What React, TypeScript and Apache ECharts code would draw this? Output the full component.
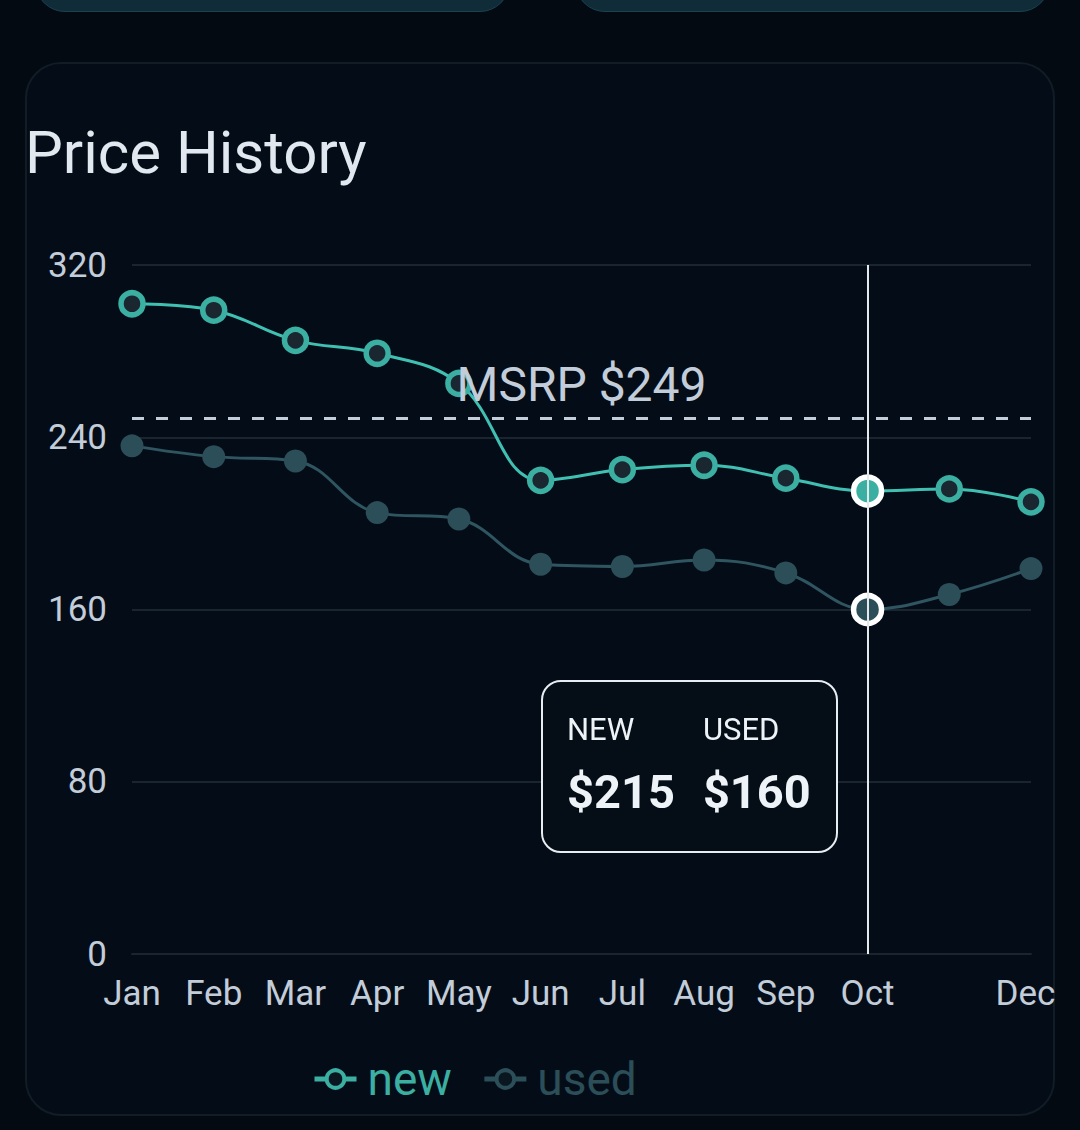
import React, { useEffect, useRef } from 'react';
import * as echarts from 'echarts';

const months = ['Jan', 'Feb', 'Mar', 'Apr', 'May', 'Jun', 'Jul', 'Aug', 'Sep', 'Oct', 'Nov', 'Dec'];
const newPrices = [302, 299, 285, 279, 265, 220, 225, 227, 221, 215, 216, 210];
const usedPrices = [236, 231, 229, 205, 202, 181, 180, 183, 177, 160, 167, 179];
const yTicks = [0, 80, 160, 240, 320];
const msrp = 249;
const activeIndex = 9;
const hiddenLabelIndex = 10;

const TEAL = '#3bafa2';
const USED = '#2b4e58';
const LABEL = '#c3cdd9';
const GRID = '#1a2530';
const FONT = "Roboto, 'Noto Sans', sans-serif";

export default function App() {
  const ref = useRef<HTMLDivElement>(null);

  useEffect(() => {
    document.body.style.margin = '0';
    document.body.style.background = '#030a12';
    if (!ref.current) return;
    const chart = echarts.init(ref.current, null, { renderer: 'svg' });

    const categories = months.map((m, i) =>
      i === months.length - 1 ? { value: m, textStyle: { padding: [0, 11, 0, 0] } } : m
    );

    const tipHtml = (n: number, u: number) => `
      <div style="display:flex;gap:28px;padding:33px 25px 36px 24px;font-family:${FONT};color:#eef3f7;">
        <div>
          <div style="font-size:31px;line-height:30px;color:#eef3f7;">NEW</div>
          <div style="font-size:47px;line-height:46px;font-weight:700;margin-top:24px;color:#eef3f7;">$${n}</div>
        </div>
        <div>
          <div style="font-size:31px;line-height:30px;color:#eef3f7;">USED</div>
          <div style="font-size:47px;line-height:46px;font-weight:700;margin-top:24px;color:#eef3f7;">$${u}</div>
        </div>
      </div>`;

    chart.setOption({
      animation: false,
      backgroundColor: 'transparent',
      title: {
        text: 'Price History',
        left: 25,
        top: 122,
        padding: 0,
        textStyle: { color: '#e1e8ef', fontSize: 60, fontWeight: 'normal', fontFamily: FONT },
      },
      grid: { left: 132, right: 49, top: 265, bottom: 176 },
      tooltip: {
        trigger: 'axis',
        triggerOn: 'none',
        alwaysShowContent: true,
        transitionDuration: 0,
        backgroundColor: '#050d17',
        borderColor: '#e8edf2',
        borderWidth: 2,
        padding: 0,
        textStyle: { color: '#eef3f7', fontFamily: FONT },
        extraCssText: 'border-radius:20px;box-shadow:none;',
        position: [541, 680],
        axisPointer: {
          type: 'line',
          lineStyle: { color: '#e6e9ec', width: 2, type: 'solid' },
          label: { show: false },
        },
        formatter: (params: any) => {
          const arr = Array.isArray(params) ? params : [params];
          const n = arr.find((p: any) => p.seriesName === 'new');
          const u = arr.find((p: any) => p.seriesName === 'used');
          return tipHtml(n ? n.value : '', u ? u.value : '');
        },
      },
      legend: {
        left: 312,
        top: 1056,
        padding: 0,
        itemWidth: 42,
        itemHeight: 22,
        itemGap: 30,
        textStyle: { fontSize: 46, fontFamily: FONT, color: 'inherit', padding: [0, 0, 0, 6] },
        data: [
          {
            name: 'new',
            textStyle: { color: TEAL },
            itemStyle: { color: '#0a1620', borderColor: TEAL, borderWidth: 4 },
            lineStyle: { color: TEAL, width: 5 },
          },
          {
            name: 'used',
            textStyle: { color: USED },
            itemStyle: { color: '#0a1620', borderColor: USED, borderWidth: 4 },
            lineStyle: { color: USED, width: 5 },
          },
        ],
      },
      xAxis: {
        type: 'category',
        boundaryGap: false,
        data: categories,
        axisLine: { show: true, lineStyle: { color: GRID, width: 2 } },
        axisTick: { show: false },
        axisLabel: {
          color: LABEL,
          fontSize: 35,
          fontFamily: FONT,
          margin: 22,
          interval: (i: number) => i !== hiddenLabelIndex,
        },
        splitLine: { show: false },
      },
      yAxis: {
        type: 'value',
        min: yTicks[0],
        max: yTicks[yTicks.length - 1],
        interval: yTicks[1] - yTicks[0],
        axisLine: { show: false },
        axisTick: { show: false },
        axisLabel: { color: LABEL, fontSize: 35, fontFamily: FONT, margin: 25 },
        splitLine: { lineStyle: { color: GRID, width: 2 } },
      },
      series: [
        {
          name: 'new',
          type: 'line',
          data: newPrices,
          smooth: 0.4,
          symbol: 'circle',
          symbolSize: 22,
          showAllSymbol: true,
          lineStyle: { color: TEAL, width: 3 },
          itemStyle: { color: '#1a2731', borderColor: TEAL, borderWidth: 5.5 },
          emphasis: {
            scale: 28 / 22,
            itemStyle: { color: TEAL, borderColor: '#ffffff', borderWidth: 5.5 },
            lineStyle: { width: 3 },
          },
          z: 3,
          markLine: {
            silent: true,
            symbol: 'none',
            data: [{ yAxis: msrp }],
            lineStyle: { color: LABEL, width: 3, type: [12, 12] },
            label: {
              show: true,
              position: 'middle',
              distance: 9,
              formatter: `MSRP $${msrp}`,
              color: LABEL,
              fontSize: 48,
              fontFamily: FONT,
            },
            emphasis: { disabled: true },
          },
        },
        {
          name: 'used',
          type: 'line',
          data: usedPrices,
          smooth: 0.4,
          symbol: 'circle',
          symbolSize: 23,
          showAllSymbol: true,
          lineStyle: { color: USED, width: 3 },
          itemStyle: { color: USED, borderColor: USED, borderWidth: 0 },
          emphasis: {
            scale: 28 / 23,
            itemStyle: { color: USED, borderColor: '#ffffff', borderWidth: 5.5 },
            lineStyle: { width: 3 },
          },
          z: 2,
        },
      ],
    });

    chart.dispatchAction({ type: 'showTip', seriesIndex: 0, dataIndex: activeIndex });

    return () => chart.dispose();
  }, []);

  return (
    <div style={{ position: 'relative', width: 1080, height: 1130, overflow: 'hidden', background: '#030a12' }}>
      <div
        style={{
          position: 'absolute', left: 35, top: -100, width: 475, height: 112,
          background: '#0f2c38', border: '1px solid #1b4250', borderRadius: 30, boxSizing: 'border-box',
        }}
      />
      <div
        style={{
          position: 'absolute', left: 575, top: -100, width: 475, height: 112,
          background: '#0f2c38', border: '1px solid #1b4250', borderRadius: 30, boxSizing: 'border-box',
        }}
      />
      <div
        style={{
          position: 'absolute', left: 25, top: 62, width: 1030, height: 1054,
          background: '#040d17', border: '2px solid #111c26', borderRadius: 36, boxSizing: 'border-box',
        }}
      />
      <div ref={ref} style={{ position: 'absolute', left: 0, top: 0, width: 1080, height: 1130 }} />
    </div>
  );
}
